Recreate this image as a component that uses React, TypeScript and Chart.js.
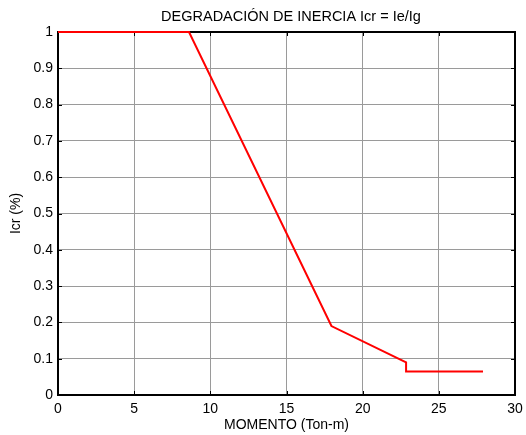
import { useEffect, useRef } from "react";
import { Chart, registerables } from "chart.js";

Chart.register(...registerables);

const momento = [0, 8.6, 17.95, 22.85, 22.85, 27.9];
const icr = [1, 1, 0.19, 0.09, 0.065, 0.065];
const xTicks = [0, 5, 10, 15, 20, 25, 30];
const yTicks = [0, 0.1, 0.2, 0.3, 0.4, 0.5, 0.6, 0.7, 0.8, 0.9, 1];
const yTickLabels = ["0", "0.1", "0.2", "0.3", "0.4", "0.5", "0.6", "0.7", "0.8", "0.9", "1"];
const chartTitle = "DEGRADACIÓN DE INERCIA Icr = Ie/Ig";

const FONT = "'Liberation Sans', Arial, Helvetica, sans-serif";

const framePlugin = {
  id: "frame",
  beforeDatasetsDraw(chart: any) {
    const { ctx, chartArea } = chart;
    const { left, right, top, bottom } = chartArea;
    const xs = chart.scales.x;
    const ys = chart.scales.y;
    ctx.save();
    ctx.strokeStyle = "#000";
    ctx.lineWidth = 1;
    const tl = 4;
    ctx.beginPath();
    for (const v of xTicks) {
      const px = Math.round(xs.getPixelForValue(v)) + 0.5;
      ctx.moveTo(px, bottom);
      ctx.lineTo(px, bottom - tl);
      ctx.moveTo(px, top);
      ctx.lineTo(px, top + tl);
    }
    for (const v of yTicks) {
      const py = Math.round(ys.getPixelForValue(v)) + 0.5;
      ctx.moveTo(left, py);
      ctx.lineTo(left + tl, py);
      ctx.moveTo(right, py);
      ctx.lineTo(right - tl, py);
    }
    ctx.stroke();
    ctx.lineWidth = 2;
    ctx.strokeRect(left, top, right - left, bottom - top);
    ctx.restore();
  },
  afterDraw(chart: any) {
    const { ctx, chartArea } = chart;
    ctx.save();
    ctx.fillStyle = "#000";
    ctx.font = `14.5px ${FONT}`;
    ctx.textAlign = "center";
    ctx.textBaseline = "middle";
    ctx.fillText(chartTitle, (chartArea.left + chartArea.right) / 2 + 4.5, 16.7);
    ctx.restore();
  },
};

export default function App() {
  const ref = useRef<HTMLCanvasElement | null>(null);
  useEffect(() => {
    if (!ref.current) return;
    const chart = new Chart(ref.current, {
      type: "scatter",
      data: {
        datasets: [
          {
            data: momento.map((x, i) => ({ x, y: icr[i] })),
            showLine: true,
            borderColor: "#ff0000",
            backgroundColor: "#ff0000",
            borderWidth: 2,
            pointRadius: 0,
            tension: 0,
            clip: false,
          } as any,
        ],
      },
      options: {
        animation: false,
        responsive: false,
        devicePixelRatio: 1,
        layout: { padding: { left: 0, right: 11, top: 32, bottom: 0 } },
        plugins: {
          legend: { display: false },
          tooltip: { enabled: false },
          title: { display: false },
        },
        scales: {
          x: {
            type: "linear",
            min: 0,
            max: 30,
            afterBuildTicks: (s: any) => {
              s.ticks = xTicks.map((v) => ({ value: v }));
            },
            afterFit: (s: any) => {
              s.height = 40;
              s.paddingLeft = 0;
              s.paddingRight = 0;
            },
            ticks: {
              color: "#000",
              font: { family: FONT, size: 14 },
              padding: 6,
              maxRotation: 0,
              autoSkip: false,
              callback: (v: any) => String(v),
            },
            grid: { color: "#9a9a9a", drawTicks: false, lineWidth: 1 },
            border: { display: false },
            title: {
              display: true,
              text: "MOMENTO (Ton-m)",
              color: "#000",
              font: { family: FONT, size: 14 },
              padding: { top: 0, bottom: 1.6 },
            },
          },
          y: {
            type: "linear",
            min: 0,
            max: 1,
            afterBuildTicks: (s: any) => {
              s.ticks = yTicks.map((v) => ({ value: v }));
            },
            afterFit: (s: any) => {
              s.width = 58;
              s.paddingTop = 0;
              s.paddingBottom = 0;
            },
            ticks: {
              color: "#000",
              font: { family: FONT, size: 14 },
              padding: 5,
              autoSkip: false,
              callback: (_v: any, i: number) => yTickLabels[i],
            },
            grid: { color: "#9a9a9a", drawTicks: false, lineWidth: 1 },
            border: { display: false },
            title: {
              display: true,
              text: "Icr (%)",
              color: "#000",
              font: { family: FONT, size: 14 },
              padding: { top: 7.6, bottom: 0 },
            },
          },
        },
      },
      plugins: [framePlugin],
    });
    return () => chart.destroy();
  }, []);
  return (
    <div style={{ position: "fixed", left: 0, top: 0, width: 526, height: 435, background: "#fff" }}>
      <canvas ref={ref} width={526} height={435} style={{ width: 526, height: 435 }} />
    </div>
  );
}
